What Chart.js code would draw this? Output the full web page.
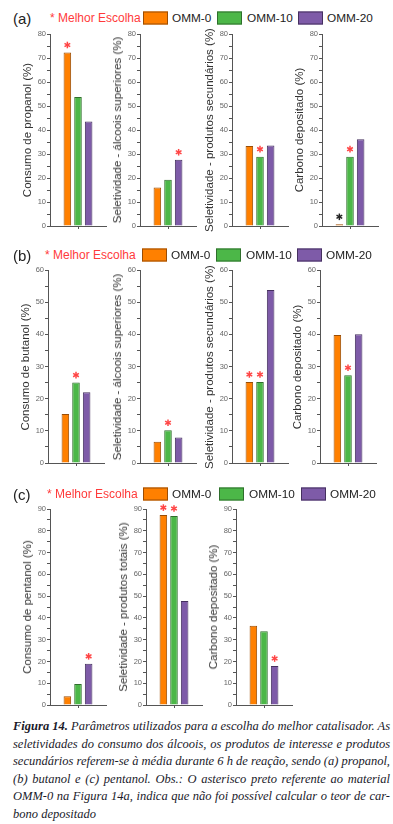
<!DOCTYPE html>
<html>
<head>
<meta charset="utf-8">
<script src="https://cdn.jsdelivr.net/npm/chart.js@4"></script>
<style>
  body { margin: 0; background: #fff; }
  #page { position: relative; width: 393px; height: 824px; overflow: hidden; font-family: "Liberation Sans", Arial, sans-serif; }
  canvas { position: absolute; }
  .tag { position: absolute; font-size: 15px; color: #222; transform: translateY(-50%); }
  .best { position: absolute; font-size: 12px; color: #ff3a3a; transform: translateY(-50%); white-space: nowrap; }
  .box { position: absolute; width: 25px; height: 13px; box-sizing: border-box; border: 1px solid; transform: translateY(-50%); }
  .lab { position: absolute; font-size: 11.8px; color: #222; transform: translateY(-50%); white-space: nowrap; }
  .ytitle { position: absolute; font-size: 11.5px; color: #333; white-space: nowrap; transform: translate(-50%, -50%) rotate(-90deg); }
  #caption { position: absolute; left: 13px; top: 718px; width: 377px; font-family: "Liberation Serif", "Times New Roman", serif; font-style: italic; font-size: 12.5px; line-height: 17.6px; color: #1a1a2a; }
  #caption .ln { white-space: nowrap; text-align: justify; text-align-last: justify; }
  #caption .ln.last { text-align-last: left; }
</style>
</head>
<body>
<div id="page">
  <div id="caption">
    <div class="ln"><b>Figura 14.</b> Parâmetros utilizados para a escolha do melhor catalisador. As</div>
    <div class="ln">seletividades do consumo dos álcoois, os produtos de interesse e produtos</div>
    <div class="ln">secundários referem-se à média durante 6 h de reação, sendo (a) propanol,</div>
    <div class="ln">(b) butanol e (c) pentanol. Obs.: O asterisco preto referente ao material</div>
    <div class="ln">OMM-0 na Figura 14a, indica que não foi possível calcular o teor de car-</div>
    <div class="ln last">bono depositado</div>
  </div>
</div>
<script>
var seriesNames = ["OMM-0", "OMM-10", "OMM-20"];
var bestLabel = "Melhor Escolha";

// (a) propanol
var titlesA = ["Consumo de propanol (%)", "Seletividade - álcoois superiores (%)", "Seletividade - produtos secundários (%)", "Carbono depositado (%)"];
var omm0A = [72.3, 16.0, 33.3, 0.7];
var omm10A = [53.8, 19.3, 28.9, 28.9];
var omm20A = [43.5, 27.6, 33.5, 36.1];
var bestA = [[0], [2], [1], [1]];
var noCalcA = [[], [], [], [0]];
var ticksA = [0, 10, 20, 30, 40, 50, 60, 70, 80];

// (b) butanol
var titlesB = ["Consumo de butanol (%)", "Seletividade - álcoois superiores (%)", "Seletividade - produtos secundários (%)", "Carbono depositado (%)"];
var omm0B = [15.2, 6.6, 25.2, 39.8];
var omm10B = [25.0, 10.2, 25.2, 27.3];
var omm20B = [22.0, 7.9, 53.8, 40.0];
var bestB = [[1], [1], [0, 1], [1]];
var ticksB = [0, 10, 20, 30, 40, 50, 60];

// (c) pentanol
var titlesC = ["Consumo de pentanol (%)", "Seletividade - produtos totais (%)", "Carbono depositado (%)"];
var omm0C = [4.0, 87.2, 36.4];
var omm10C = [9.6, 86.8, 33.9];
var omm20C = [18.9, 47.8, 17.9];
var bestC = [[2], [0, 1], [2]];
var ticksC = [0, 10, 20, 30, 40, 50, 60, 70, 80, 90];

// look
var fills = ["#ff8000", "#4cb748", "#7e5ba8"];
var borders = ["#9a4d05", "#2f6e2c", "#45305f"];
var axisColor = "#555";
var fontFam = "'Liberation Sans', Arial, sans-serif";

var page = document.getElementById("page");

// asterisks over the chosen bars
var starPlugin = {
  id: "stars",
  afterDatasetsDraw: function (chart, args, opts) {
    var ctx = chart.ctx;
    function star(i, color) {
      var bar = chart.getDatasetMeta(i).data[0];
      var cx = bar.x, cy = bar.y - 7.5, r = 3.3;
      ctx.save();
      ctx.strokeStyle = color;
      ctx.lineWidth = 1.5;
      for (var k = 0; k < 3; k++) {
        var a = Math.PI / 2 + k * Math.PI / 3;
        ctx.beginPath();
        ctx.moveTo(cx + r * Math.cos(a), cy + r * Math.sin(a));
        ctx.lineTo(cx - r * Math.cos(a), cy - r * Math.sin(a));
        ctx.stroke();
      }
      ctx.restore();
    }
    (opts.red || []).forEach(function (i) { star(i, "#ff4545"); });
    (opts.black || []).forEach(function (i) { star(i, "#222"); });
  }
};

function addEl(cls, text, left, top) {
  var d = document.createElement("div");
  d.className = cls;
  d.textContent = text;
  d.style.left = left + "px";
  d.style.top = top + "px";
  page.appendChild(d);
  return d;
}

function legendRow(tag, y, xs) {
  addEl("tag", tag, 13, y);
  addEl("best", "* " + bestLabel, xs[0], y);
  for (var i = 0; i < 3; i++) {
    var b = addEl("box", "", xs[1 + i * 2], y);
    b.style.background = fills[i];
    b.style.borderColor = borders[i];
    addEl("lab", seriesNames[i], xs[2 + i * 2], y);
  }
}

function buildChart(axisX, areaTop, areaBottom, vals, title, ticks, red, black) {
  var cv = document.createElement("canvas");
  var h = areaBottom - areaTop + 16;
  cv.width = 90;
  cv.height = h;
  cv.style.left = (axisX - 30) + "px";
  cv.style.top = (areaTop - 8) + "px";
  page.appendChild(cv);

  addEl("ytitle", title, axisX - 23, (areaTop + areaBottom) / 2);

  var datasets = vals.map(function (v, i) {
    return {
      label: seriesNames[i],
      data: [v],
      backgroundColor: fills[i],
      borderColor: borders[i],
      borderWidth: 1,
      categoryPercentage: 0.57,
      barPercentage: 0.71,
    };
  });

  new Chart(cv, {
    type: "bar",
    data: { labels: [""], datasets: datasets },
    plugins: [starPlugin],
    options: {
      responsive: false,
      animation: false,
      layout: { padding: { top: 8, right: 4, left: 0, bottom: 0 } },
      plugins: {
        legend: { display: false },
        tooltip: { enabled: false },
        stars: { red: red, black: black },
      },
      scales: {
        x: {
          grid: { drawOnChartArea: false, offset: false, tickLength: 3, color: axisColor },
          border: { color: axisColor },
          ticks: { callback: function () { return ""; }, padding: 0 },
          afterFit: function (s) { s.height = 8; },
        },
        y: {
          min: ticks[0],
          max: ticks[ticks.length - 1],
          ticks: {
            stepSize: 5,
            autoSkip: false,
            padding: 1,
            color: "#666",
            font: { size: 7.5, family: fontFam },
            callback: function (v) { return ticks.indexOf(v) >= 0 ? v : ""; },
          },
          grid: { drawOnChartArea: false, tickLength: 3, color: axisColor },
          border: { color: axisColor },
          afterFit: function (s) { s.width = 30; },
        },
      },
    },
  });
}

// panel (a)
legendRow("(a)", 18, [50, 143, 172, 217, 247, 298, 327]);
var axA = [50, 140, 232, 322];
for (var j = 0; j < 4; j++) {
  buildChart(axA[j], 34, 226, [omm0A[j], omm10A[j], omm20A[j]], titlesA[j], ticksA, bestA[j], noCalcA[j]);
}

// panel (b)
legendRow("(b)", 255, [45, 142, 171, 216, 246, 297, 326]);
var axB = [48, 140, 232, 320];
for (var j = 0; j < 4; j++) {
  buildChart(axB[j], 270, 463, [omm0B[j], omm10B[j], omm20B[j]], titlesB[j], ticksB, bestB[j], []);
}

// panel (c)
legendRow("(c)", 494, [47, 143, 172, 219, 249, 301, 330]);
var axC = [50, 146, 236];
for (var j = 0; j < 3; j++) {
  buildChart(axC[j], 509, 705, [omm0C[j], omm10C[j], omm20C[j]], titlesC[j], ticksC, bestC[j], []);
}
</script>
</body>
</html>
